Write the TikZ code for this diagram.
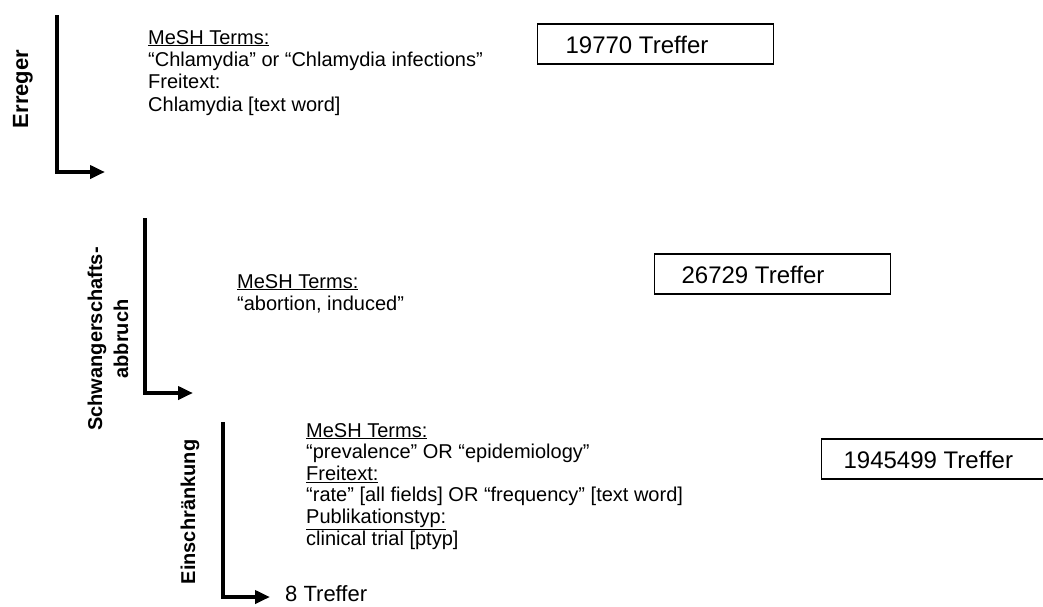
\documentclass[tikz,border=0pt]{standalone}
\usepackage{fontspec}
\setmainfont{Liberation Sans}
\usetikzlibrary{arrows.meta}
\begin{document}
\begin{tikzpicture}[x=1pt,y=-1pt,
  lab/.style={font=\fontsize{20}{22}\selectfont\bfseries, rotate=90, anchor=base, inner sep=0},
  txt/.style={font=\fontsize{20}{22}\selectfont, anchor=base west, inner sep=0},
  hit/.style={draw, line width=1.2pt, font=\fontsize{24}{26}\selectfont, anchor=base west, inner sep=0, text height=29pt, text depth=11pt},
  flow/.style={line width=4pt, -{Triangle[length=15pt,width=13pt]}},
]
\useasboundingbox (0,0) rectangle (1043,606);

% block 1
\node[lab, font=\fontsize{22}{24}\selectfont\bfseries] (l1) at (28,89) {Erreger};
\coordinate (a1s) at (57,15);
\coordinate (a1c) at (57,172);
\coordinate (a1e) at (105,172);
\draw[flow] (a1s) -- (a1c) -- (a1e);
\node[txt, font=\fontsize{20}{22.4}\selectfont] (t1) at (148,44) {\begin{tabular}[t]{@{}l@{}}\underline{MeSH Terms:}\\ “Chlamydia” or “Chlamydia infections”\\ Freitext:\\ Chlamydia [text word]\end{tabular}};
\node[hit] (h1) at (537,53) {\makebox[236pt][l]{\hspace{28pt}19770 Treffer}};

% block 2
\node[lab] (l2a) at (102,339) {Schwangerschafts-};
\node[lab] (l2b) at (128,339) {abbruch};
\coordinate (a2s) at (145,218);
\coordinate (a2c) at (145,393);
\coordinate (a2e) at (193,393);
\draw[flow] (a2s) -- (a2c) -- (a2e);
\node[txt] (t2) at (237,288) {\begin{tabular}[t]{@{}l@{}}\underline{MeSH Terms:}\\ “abortion, induced”\end{tabular}};
\node[hit] (h2) at (654,283) {\makebox[236pt][l]{\hspace{27pt}26729 Treffer}};

% block 3
\node[lab] (l3) at (195,512) {Einschränkung};
\coordinate (a3s) at (223,422);
\coordinate (a3c) at (223,597);
\coordinate (a3e) at (270,597);
\draw[flow] (a3s) -- (a3c) -- (a3e);
\node[txt, font=\fontsize{20}{21.6}\selectfont] (t3) at (306,437) {\begin{tabular}[t]{@{}l@{}}\underline{MeSH Terms:}\\ “prevalence” OR “epidemiology”\\ \underline{Freitext:}\\ “rate” [all fields] OR “frequency” [text word]\\ \underline{Publikationstyp:}\\ clinical trial [ptyp]\end{tabular}};
\node[hit] (h3) at (821,468) {\makebox[240pt][l]{\hspace{22pt}1945499 Treffer}};
\node[anchor=base west, inner sep=0, font=\fontsize{22}{24}\selectfont] (res) at (285,601) {8 Treffer};
\end{tikzpicture}
\end{document}
